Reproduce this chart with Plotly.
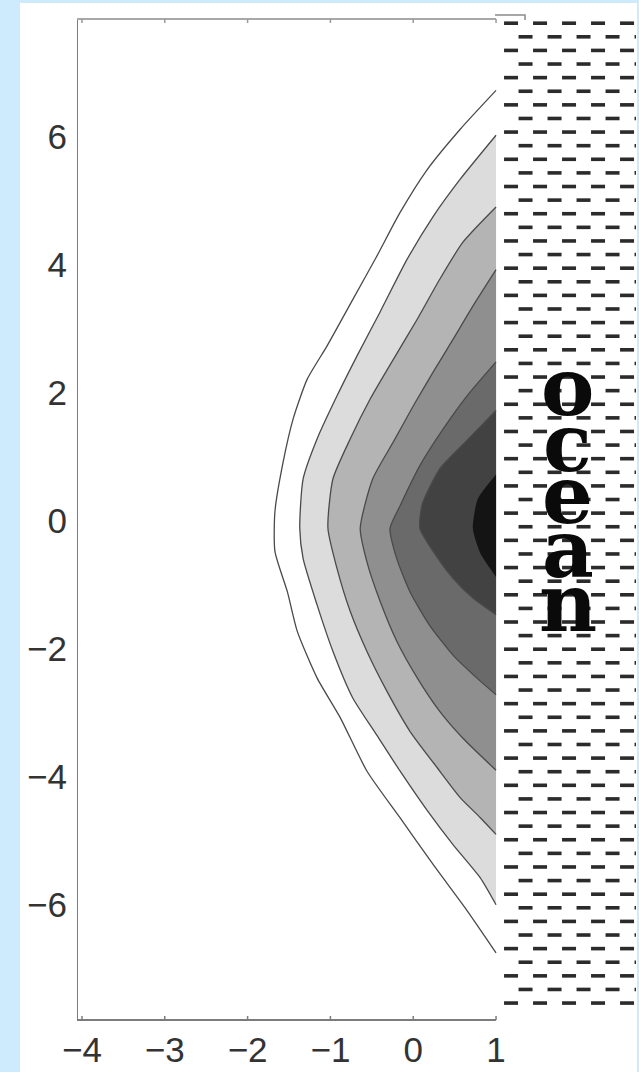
import plotly.graph_objects as go

# ---- data ----
x_ticks = [-4, -3, -2, -1, 0, 1]
x_tick_text = ["\u22124", "\u22123", "\u22122", "\u22121", "0", "1"]
y_ticks = [-6, -4, -2, 0, 2, 4, 6]
y_tick_text = ["\u22126", "\u22124", "\u22122", "0", "2", "4", "6"]

# contour lines (outermost first), x / y pairs
L1_x = [1.0, 0.565, 0.167, -0.16, -0.44, -0.727, -1.04, -1.28, -1.45, -1.57, -1.67, -1.67, -1.52, -1.40, -1.16, -0.88, -0.56, -0.16, 0.24, 0.65, 1.0]
L1_y = [6.72, 6.11, 5.48, 4.81, 4.13, 3.46, 2.73, 2.21, 1.59, 0.92, 0.14, -0.48, -1.11, -1.73, -2.46, -3.08, -3.91, -4.64, -5.37, -6.09, -6.75]
L2_x = [1.0, 0.565, 0.24, -0.075, -0.40, -0.68, -0.92, -1.16, -1.33, -1.37, -1.33, -1.16, -0.97, -0.73, -0.44, -0.16, 0.17, 0.48, 0.81, 1.0]
L2_y = [6.02, 5.33, 4.75, 4.08, 3.26, 2.57, 1.95, 1.28, 0.65, -0.12, -0.59, -1.32, -2.04, -2.77, -3.35, -3.91, -4.53, -5.06, -5.58, -6.0]
L3_x = [1.0, 0.60, 0.32, 0.05, -0.24, -0.52, -0.76, -0.97, -1.03, -0.92, -0.76, -0.56, -0.32, -0.04, 0.29, 0.57, 0.81, 1.0]
L3_y = [4.9, 4.35, 3.77, 3.15, 2.52, 1.90, 1.28, 0.65, -0.12, -0.75, -1.42, -2.04, -2.66, -3.29, -3.86, -4.33, -4.64, -4.9]
L4_x = [1.0, 0.72, 0.48, 0.24, 0.0, -0.24, -0.49, -0.64, -0.56, -0.40, -0.20, 0.05, 0.32, 0.60, 1.0]
L4_y = [3.92, 3.35, 2.83, 2.32, 1.79, 1.23, 0.65, -0.12, -0.64, -1.26, -1.88, -2.46, -2.98, -3.40, -3.9]
L5_x = [1.0, 0.65, 0.36, 0.08, -0.16, -0.28, -0.20, -0.04, 0.20, 0.48, 0.77, 1.0]
L5_y = [2.48, 1.95, 1.43, 0.86, 0.23, -0.12, -0.59, -1.11, -1.64, -2.10, -2.46, -2.72]
L6_x = [1.0, 0.63, 0.32, 0.11, 0.08, 0.24, 0.48, 0.72, 1.0]
L6_y = [1.72, 1.23, 0.81, 0.26, -0.12, -0.48, -0.90, -1.21, -1.47]
L7_x = [1.0, 0.78, 0.72, 0.81, 1.0]
L7_y = [0.72, 0.34, -0.12, -0.51, -0.88]

contours_x = [L1_x, L2_x, L3_x, L4_x, L5_x, L6_x, L7_x]
contours_y = [L1_y, L2_y, L3_y, L4_y, L5_y, L6_y, L7_y]
band_colors = ["#ffffff", "#dcdcdc", "#b4b4b4", "#8f8f8f", "#6a6a6a", "#424242", "#141414"]
line_drawn = [True, True, True, True, True, True, False]

ocean_label = ["o", "c", "e", "a", "n"]
ocean_label_y = [2.09, 1.21, 0.40, -0.45, -1.28]

# ---- layout constants ----
W, H = 639, 1072
ML, MR, MT, MB = 77, 3, 20, 49
XR = [-4.06, 2.69]
YR = [-7.80, 7.82]
plot_h = H - MT - MB

fig = go.Figure()

# filled bands
for cx, cy, col in zip(contours_x, contours_y, band_colors):
    fig.add_trace(go.Scatter(x=cx, y=cy, mode="lines", fill="toself", fillcolor=col,
                             line=dict(width=0, color=col, shape="spline", smoothing=0.6),
                             hoverinfo="skip", showlegend=False))
# contour lines
for cx, cy, draw in zip(contours_x, contours_y, line_drawn):
    if draw:
        fig.add_trace(go.Scatter(x=cx, y=cy, mode="lines",
                                 line=dict(width=1.3, color="#4a4a4a", shape="spline", smoothing=0.6),
                                 hoverinfo="skip", showlegend=False))

# ocean dash pattern (decoration)
dx_unit = (W - ML - MR) / (XR[1] - XR[0])
dy_unit = plot_h / (YR[1] - YR[0])
row_step = 13.65 / dy_unit
col_step = 29.0 / dx_unit
dash_len = 14.0 / dx_unit
first_row_y = 7.77
first_col_x = 1.0 + 8.0 / dx_unit
dxs, dys = [], []
r = 0
yy = first_row_y
while yy > -7.6:
    off = 0 if r % 2 == 0 else col_step / 2
    xx = first_col_x + off
    while xx < XR[1]:
        dxs += [xx, min(xx + dash_len, XR[1]), None]
        dys += [yy, yy, None]
        xx += col_step
    r += 1
    yy -= row_step
fig.add_trace(go.Scatter(x=dxs, y=dys, mode="lines", line=dict(width=3.6, color="#2b2b2b"),
                         hoverinfo="skip", showlegend=False))

# ocean label
for ch, yv in zip(ocean_label, ocean_label_y):
    fig.add_annotation(x=1.865, y=yv, text="<b>%s</b>" % ch, showarrow=False,
                       xanchor="center", yanchor="middle",
                       font=dict(family="DejaVu Serif", size=80, color="#0a0a0a"))

def py2paper(p):
    return (H - MB - p) / plot_h

def px2paper(p):
    return (p - ML) / (W - ML - MR)

shapes = [
    # white panel
    dict(type="rect", xref="paper", yref="paper", x0=px2paper(20), x1=px2paper(637),
         y0=py2paper(1080), y1=py2paper(3), fillcolor="white", line=dict(width=0), layer="below"),
    # left axis
    dict(type="line", xref="x", yref="paper", x0=XR[0], x1=XR[0], y0=0, y1=1,
         line=dict(color="#7c7c7c", width=2)),
    # bottom axis
    dict(type="line", xref="x", yref="paper", x0=XR[0], x1=1.0, y0=0, y1=0,
         line=dict(color="#7c7c7c", width=2)),
    # top frame
    dict(type="line", xref="x", yref="paper", x0=XR[0], x1=1.0, y0=py2paper(19), y1=py2paper(19),
         line=dict(color="#a8a8a8", width=2)),
    # small bracket at top right
    dict(type="path", xref="paper", yref="paper",
         path="M %f %f L %f %f L %f %f" % (px2paper(495), py2paper(15), px2paper(525), py2paper(15),
                                          px2paper(525), py2paper(20)),
         line=dict(color="#8a8a8a", width=1.5)),
]
# tick marks on bottom and top (inside)
for t in x_ticks:
    shapes.append(dict(type="line", xref="x", yref="paper", x0=t, x1=t, y0=0, y1=py2paper(1019),
                       line=dict(color="#7c7c7c", width=1.5)))
    shapes.append(dict(type="line", xref="x", yref="paper", x0=t, x1=t, y0=py2paper(19), y1=py2paper(23),
                       line=dict(color="#9a9a9a", width=1.5)))

fig.update_layout(
    width=W, height=H,
    margin=dict(l=ML, r=MR, t=MT, b=MB, pad=0),
    paper_bgcolor="#cdebfc",
    plot_bgcolor="rgba(0,0,0,0)",
    shapes=shapes,
    showlegend=False,
    xaxis=dict(range=XR, tickvals=x_ticks, ticktext=x_tick_text, showgrid=False, zeroline=False,
               showline=False, ticks="", ticklabelstandoff=6,
               tickfont=dict(family="Liberation Sans", size=35, color="#333333")),
    yaxis=dict(range=YR, tickvals=y_ticks, ticktext=y_tick_text, showgrid=False, zeroline=False,
               showline=False, ticks="", ticklabelstandoff=9,
               tickfont=dict(family="Liberation Sans", size=35, color="#333333")),
)

fig.write_html("out.html")
